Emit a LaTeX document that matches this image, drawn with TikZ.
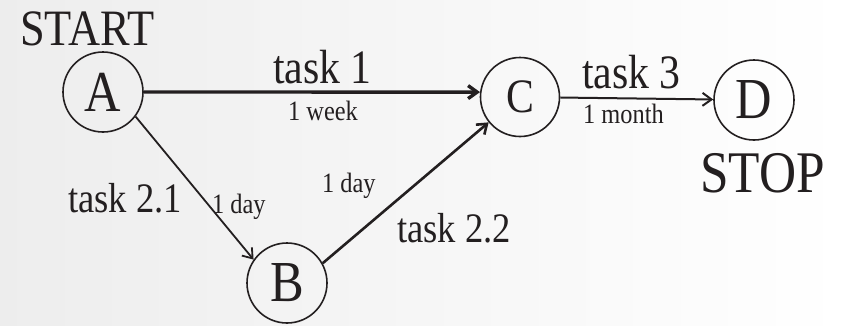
\documentclass[tikz,border=0pt]{standalone}
\usepackage{fontspec}
\setmainfont{Liberation Serif}[FakeStretch=0.87]
\usetikzlibrary{arrows.meta}
\definecolor{ink}{HTML}{231F20}
\newcommand\fsz[1]{\fontsize{#1}{#1}\selectfont}
\tikzset{
  state/.style={circle, draw=ink, line width=1.6pt, minimum size=80pt,
    inner sep=0pt, text=ink, font=\fsz{58}},
  lbl/.style={inner sep=0pt, anchor=base west, text=ink},
  biglbl/.style={lbl, font=\fsz{48}},
  midlbl/.style={lbl, font=\fsz{42}},
  smalllbl/.style={lbl, font=\fsz{28}},
  arr/.style={draw=ink, -{Straight Barb[length=9pt,width=13pt]}}
}
\begin{document}
\begin{tikzpicture}[x=1pt, y=-1pt]
  % page with a faint grey wash fading out towards the middle
  \useasboundingbox (0,0) rectangle (846,325);
  \shade[left color=black!7, middle color=white, right color=white]
    (0,0) rectangle (846,325);

  % events
  \node[state] (A) at (103,92) {A};
  \node[state] (B) at (287,283) {B};
  \node[state, minimum size=79pt, font=\fsz{48}] (C) at (520,97) {C};
  \node[state] (D) at (754,100) {D};

  % activities
  \draw[arr, line width=3.4pt] (A.east) -- (C.173);
  \draw[arr, line width=2pt] (C) -- (D);
  \draw[arr, line width=1.8pt] (A.-37) -- (B.145);
  \draw[arr, line width=2.6pt] (B.29) -- (C.219);

  % labels
  \node[lbl, font=\fsz{51}] (start) at (20,45) {START};
  \node[lbl, font=\fsz{59}] (stop) at (700,192) {STOP};
  \node[biglbl] (t1) at (273,83) {task 1};
  \node[smalllbl] (d1) at (288,120) {1 week};
  \node[biglbl] (t3) at (582,88) {task 3};
  \node[smalllbl] (d3) at (583,123) {1 month};
  \node[midlbl] (t21) at (68,212) {task 2.1};
  \node[smalllbl] (d21) at (212,213) {1 day};
  \node[smalllbl] (d22) at (322,192) {1 day};
  \node[midlbl] (t22) at (397,242) {task 2.2};
\end{tikzpicture}
\end{document}
